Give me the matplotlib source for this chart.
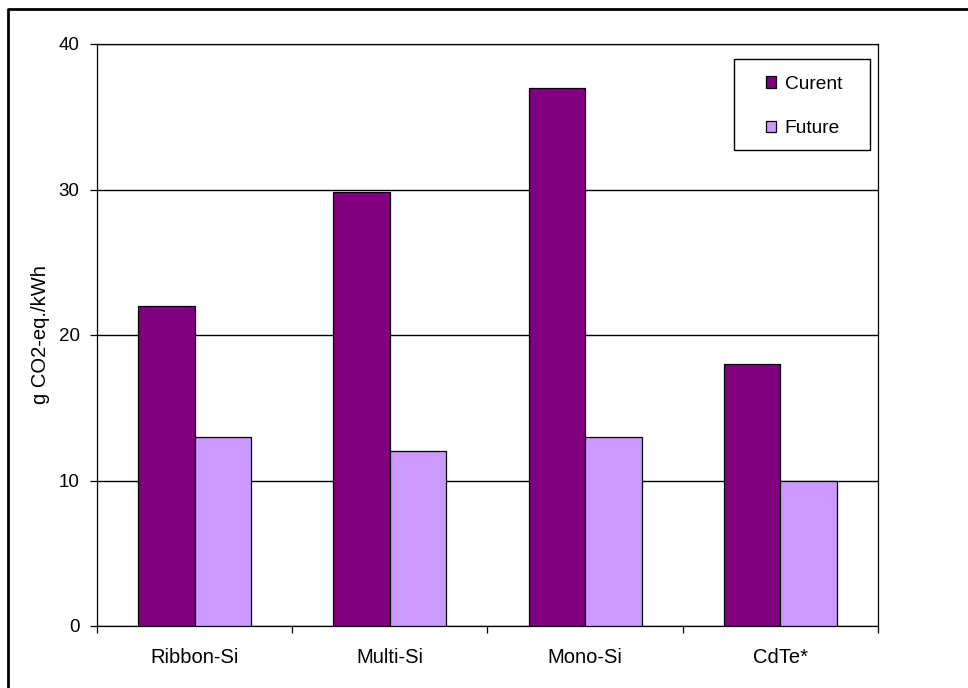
import matplotlib
matplotlib.use("Agg")
import matplotlib.pyplot as plt
import numpy as np
from matplotlib.lines import Line2D
from matplotlib.patches import Rectangle, Patch

# Life-cycle greenhouse gas emissions of PV technologies
categories = ["Ribbon-Si", "Multi-Si", "Mono-Si", "CdTe*"]
current = [22.0, 29.8, 37.0, 18.0]
future = [13.0, 12.0, 13.0, 10.0]
series_names = ["Curent", "Future"]
y_ticks = [0, 10, 20, 30, 40]

plt.rcParams["font.family"] = ["Liberation Sans", "DejaVu Sans"]

fig = plt.figure(figsize=(9.68, 6.88), dpi=100)
ax = fig.add_axes([97 / 968, 1 - 626 / 688, 781 / 968, 582 / 688])

x = np.arange(len(categories))
w = 0.29
c_cur, c_fut = "#800080", "#CC99FF"
ax.bar(x - w / 2, current, width=w, color=c_cur, edgecolor="black", linewidth=0.9, zorder=3)
ax.bar(x + w / 2, future, width=w, color=c_fut, edgecolor="black", linewidth=0.9, zorder=3)

ax.set_xlim(-0.5, len(categories) - 0.5)
ax.set_ylim(0, 40)
ax.set_yticks(y_ticks)
ax.tick_params(axis="y", direction="out", length=5, width=0.9, pad=7.5, labelsize=13.5)

# category labels in the middle, tick marks on the boundaries
ax.set_xticks(x)
ax.set_xticklabels(categories)
ax.set_xticks(np.arange(-0.5, len(categories)), minor=True)
ax.tick_params(axis="x", which="major", length=0, pad=16, labelsize=14.5)
ax.tick_params(axis="x", which="minor", direction="out", length=5, width=0.9)

ax.yaxis.grid(True, color="black", linewidth=1.0, zorder=0)
ax.set_axisbelow(True)
for s in ax.spines.values():
    s.set_linewidth(0.9)
    s.set_color("black")

ax.set_ylabel("g CO2-eq./kWh", fontsize=14.5, labelpad=6)

# legend inside a framed box at the upper right
handles = [Patch(facecolor=c_cur, edgecolor="black", linewidth=0.9),
           Patch(facecolor=c_fut, edgecolor="black", linewidth=0.9)]
ax.add_patch(Rectangle((0.816, 0.818), 0.174, 0.156, transform=ax.transAxes,
                       facecolor="white", edgecolor="black", linewidth=1.0, zorder=5))
leg = ax.legend(handles, series_names, loc="center", bbox_to_anchor=(0.905, 0.8925),
                frameon=False, fontsize=13.8, handlelength=0.55, handleheight=0.55,
                handletextpad=0.45, labelspacing=1.45, borderpad=0)
leg.set_zorder(6)

# outer frame of the figure (top and left edges)
fig.add_artist(Line2D([8 / 968, 8 / 968, 1.0], [0.0, 1 - 9 / 688, 1 - 9 / 688],
                      transform=fig.transFigure, color="black", linewidth=2.0))

fig.savefig("out.png", dpi=100, facecolor="white")
